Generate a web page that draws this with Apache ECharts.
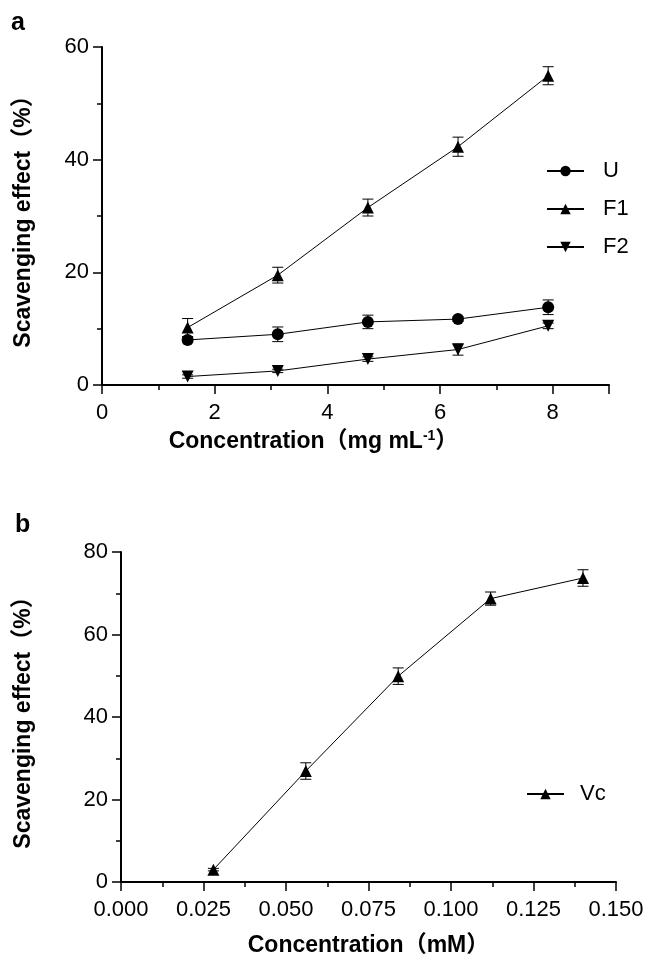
<!DOCTYPE html>
<html><head><meta charset="utf-8">
<script src="https://cdn.jsdelivr.net/npm/echarts@6/dist/echarts.min.js"></script>
<style>html,body{margin:0;padding:0;background:#fff}#c{width:647px;height:980px}</style>
</head><body><div id="c"></div>
<script>
// Panel a data
const concA = [1.52, 3.12, 4.72, 6.32, 7.92];
const U = [8.0, 9.0, 11.2, 11.7, 13.8];
const U_err = [0.5, 1.3, 1.2, 0.4, 1.3];
const F1 = [10.2, 19.5, 31.5, 42.3, 54.9];
const F1_err = [1.6, 1.4, 1.5, 1.7, 1.6];
const F2 = [1.5, 2.5, 4.6, 6.3, 10.5];
const F2_err = [0.3, 0.3, 0.4, 1.0, 0.5];
// Panel b data
const concB = [0.028, 0.056, 0.084, 0.112, 0.140];
const Vc = [3.0, 26.9, 49.9, 68.7, 73.7];
const Vc_err = [0.3, 2.0, 2.0, 1.6, 2.0];
// tick labels
const xTicksA = [0, 2, 4, 6, 8];
const yTicksA = [0, 20, 40, 60];
const xTicksB = ['0.000','0.025','0.050','0.075','0.100','0.125','0.150'];
const yTicksB = [0, 20, 40, 60, 80];

const FONT = '"Liberation Sans", Arial, "Noto Sans CJK SC", sans-serif';
const chart = echarts.init(document.getElementById('c'), null, {renderer:'canvas'});

function pts(xs, ys){ return xs.map((x,i)=>[x, ys[i]]); }
function errPts(xs, ys, es){ return xs.map((x,i)=>[x, ys[i]-es[i], ys[i]+es[i]]); }

function errSeries(idx, data){
  return {
    type:'custom', xAxisIndex:idx, yAxisIndex:idx, z:1, silent:true,
    data:data,
    encode:{x:0, y:[1,2]},
    renderItem:function(params, api){
      const x = api.value(0);
      const lo = api.coord([x, api.value(1)]);
      const hi = api.coord([x, api.value(2)]);
      const w = 5.5;
      const st = {stroke:'#000', lineWidth:1};
      return {type:'group', children:[
        {type:'line', shape:{x1:lo[0], y1:lo[1], x2:hi[0], y2:hi[1]}, style:st},
        {type:'line', shape:{x1:lo[0]-w, y1:lo[1], x2:lo[0]+w, y2:lo[1]}, style:st},
        {type:'line', shape:{x1:hi[0]-w, y1:hi[1], x2:hi[0]+w, y2:hi[1]}, style:st}
      ]};
    }
  };
}

function lineSeries(name, idx, data, symbol, size){
  return {
    name:name, type:'line', xAxisIndex:idx, yAxisIndex:idx, z:3,
    data:data, symbol:symbol, symbolSize:size, showSymbol:true,
    lineStyle:{color:'#000', width:1}, itemStyle:{color:'#000', borderWidth:0},
    emphasis:{disabled:true}, animation:false
  };
}

const axisCommon = {
  axisLine:{show:true, onZero:false, lineStyle:{color:'#000', width:2}},
  axisTick:{show:true, length:9, lineStyle:{color:'#000', width:1.5}},
  minorTick:{show:true, splitNumber:2, length:5, lineStyle:{color:'#000', width:1.5}},
  splitLine:{show:false},
  axisLabel:{color:'#000', fontSize:22, fontFamily:FONT},
  nameTextStyle:{color:'#000', fontSize:23, fontWeight:'bold', fontFamily:FONT}
};

const option = {
  backgroundColor:'#fff',
  animation:false,
  textStyle:{fontFamily:FONT},
  grid:[
    {left:102, top:47, width:507, height:338},
    {left:121, top:552, width:495, height:330}
  ],
  xAxis:[
    Object.assign({}, axisCommon, {type:'value', gridIndex:0, min:0, max:9, interval:2,
      axisLabel:Object.assign({}, axisCommon.axisLabel, {margin:17,
        formatter:v=> xTicksA.includes(v) ? String(v) : ''}),
      name:'Concentration（mg mL{sup|-1}）', nameLocation:'middle', nameGap:44,
      nameTextStyle:Object.assign({}, axisCommon.nameTextStyle, {padding:[0,84,0,0],
        rich:{sup:{fontSize:14, fontWeight:'bold', fontFamily:FONT, color:'#000', padding:[0,0,11,0]}}})
    }),
    Object.assign({}, axisCommon, {type:'value', gridIndex:1, min:0, max:0.15, interval:0.025,
      axisLabel:Object.assign({}, axisCommon.axisLabel, {margin:17,
        formatter:v=> xTicksB[Math.round(v/0.025)] || ''}),
      name:'Concentration（mM）', nameLocation:'middle', nameGap:52})
  ],
  yAxis:[
    Object.assign({}, axisCommon, {type:'value', gridIndex:0, min:0, max:60, interval:20,
      axisLabel:Object.assign({}, axisCommon.axisLabel, {margin:13,
        formatter:v=> yTicksA.includes(v) ? String(v) : ''}),
      name:'Scavenging effect（%）', nameLocation:'middle', nameGap:67}),
    Object.assign({}, axisCommon, {type:'value', gridIndex:1, min:0, max:80, interval:20,
      axisLabel:Object.assign({}, axisCommon.axisLabel, {margin:13,
        formatter:v=> yTicksB.includes(v) ? String(v) : ''}),
      name:'Scavenging effect（%）', nameLocation:'middle', nameGap:86})
  ],
  legend:[
    {data:['U','F1','F2'], orient:'vertical', left:541, top:155, itemWidth:37, itemHeight:13,
     itemGap:16, textStyle:{fontSize:22, color:'#000', fontFamily:FONT, padding:[0,0,0,14]}, selectedMode:false},
    {data:['Vc'], orient:'vertical', left:521, top:778, itemWidth:37, itemHeight:13,
     textStyle:{fontSize:22, color:'#000', fontFamily:FONT, padding:[0,0,0,11]}, selectedMode:false}
  ],
  graphic:[
    {type:'text', left:11, top:11, style:{text:'a', font:'bold 25px '+FONT, fill:'#000'}},
    {type:'text', left:15, top:513, style:{text:'b', font:'bold 25px '+FONT, fill:'#000'}}
  ],
  series:[
    errSeries(0, errPts(concA, U, U_err)),
    errSeries(0, errPts(concA, F1, F1_err)),
    errSeries(0, errPts(concA, F2, F2_err)),
    lineSeries('U', 0, pts(concA, U), 'circle', 12),
    lineSeries('F1', 0, pts(concA, F1), 'triangle', 12),
    lineSeries('F2', 0, pts(concA, F2), 'path://M0,0 L10,0 L5,10 Z', 12),
    errSeries(1, errPts(concB, Vc, Vc_err)),
    lineSeries('Vc', 1, pts(concB, Vc), 'triangle', 12)
  ]
};
chart.setOption(option);
</script>
</body></html>
